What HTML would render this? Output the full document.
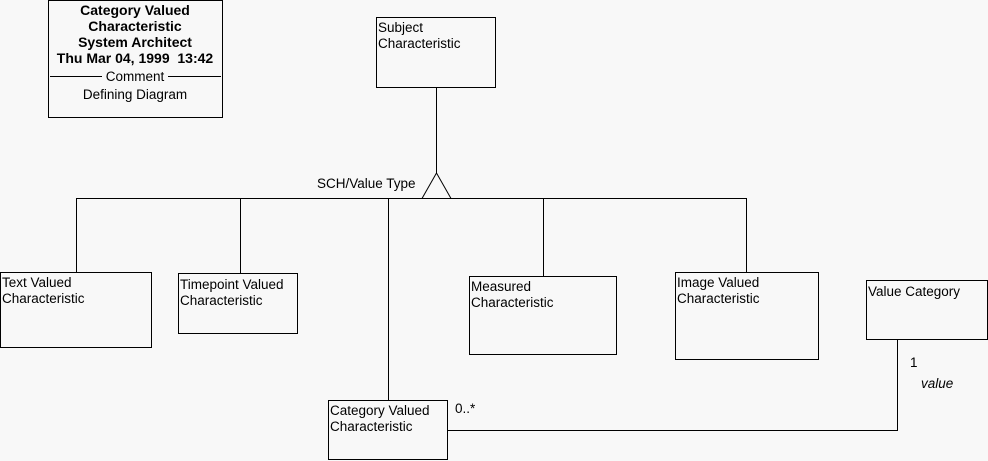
<!DOCTYPE html>
<html><head><style>
html,body{margin:0;padding:0;background:#f8f8f8;}
svg{display:block;}
text{font-family:"Liberation Sans",sans-serif;font-size:13.5px;fill:#000;}
.b{font-weight:bold;font-size:14px;}
</style></head><body>
<svg width="988" height="461" viewBox="0 0 988 461" xmlns="http://www.w3.org/2000/svg">
<rect width="988" height="461" fill="#f8f8f8"/>
<g fill="none" stroke="#000" stroke-width="1" shape-rendering="crispEdges">
<rect x="48.5" y="0.5" width="174" height="117"/>
<line x1="50" y1="76.5" x2="102" y2="76.5"/>
<line x1="168" y1="76.5" x2="221" y2="76.5"/>
<rect x="376.5" y="17.5" width="119" height="70"/>
<line x1="436.5" y1="88" x2="436.5" y2="173"/>
<line x1="76" y1="198.5" x2="747" y2="198.5"/>
<line x1="76.5" y1="198" x2="76.5" y2="272"/>
<line x1="240.5" y1="198" x2="240.5" y2="273"/>
<line x1="388.5" y1="198" x2="388.5" y2="400"/>
<line x1="543.5" y1="198" x2="543.5" y2="276"/>
<line x1="746.5" y1="198" x2="746.5" y2="272"/>
<rect x="0.5" y="272.5" width="151" height="75"/>
<rect x="178.5" y="273.5" width="119" height="60"/>
<rect x="469.5" y="276.5" width="147" height="78"/>
<rect x="675.5" y="272.5" width="143" height="87"/>
<rect x="866.5" y="280.5" width="121" height="59"/>
<rect x="328.5" y="400.5" width="119" height="59"/>
<polyline points="447,430.5 897.5,430.5 897.5,340"/>
</g>
<polygon points="436.5,173 422,198.5 451,198.5" fill="#f8f8f8" stroke="#000"/>
<text class="b" x="135" y="15" text-anchor="middle">Category Valued</text>
<text class="b" x="135" y="31" text-anchor="middle">Characteristic</text>
<text class="b" x="135" y="47" text-anchor="middle">System Architect</text>
<text class="b" x="135" y="63" text-anchor="middle" xml:space="preserve">Thu Mar 04, 1999  13:42</text>
<text x="135" y="81" text-anchor="middle">Comment</text>
<text x="135" y="99" text-anchor="middle">Defining Diagram</text>
<text x="378" y="32">Subject</text>
<text x="378" y="48">Characteristic</text>
<text x="317" y="188">SCH/Value Type</text>
<text x="2" y="287">Text Valued</text>
<text x="2" y="303">Characteristic</text>
<text x="180" y="289">Timepoint Valued</text>
<text x="180" y="305">Characteristic</text>
<text x="471" y="291">Measured</text>
<text x="471" y="307">Characteristic</text>
<text x="677" y="287">Image Valued</text>
<text x="677" y="303">Characteristic</text>
<text x="868" y="296">Value Category</text>
<text x="330" y="415">Category Valued</text>
<text x="330" y="431">Characteristic</text>
<text x="455" y="413">0..*</text>
<text x="910" y="367">1</text>
<text x="921" y="388" font-style="italic">value</text>
</svg>
</body></html>
